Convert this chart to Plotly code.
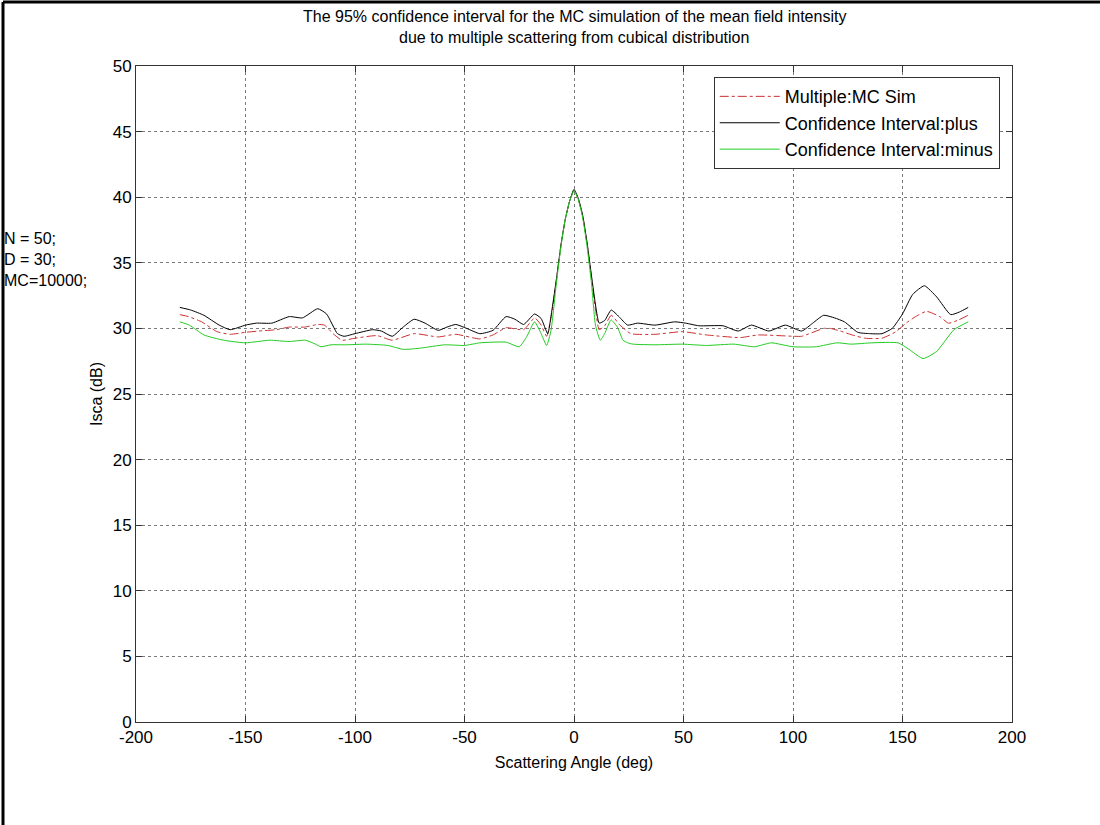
import plotly.graph_objects as go

# Mean field intensity (MC simulation) and its 95% confidence bounds, in dB
ang_mean = [-180, -176, -170, -163, -157, -150, -144, -136, -130, -123, -117, -114, -110, -106,
            -100, -90, -83, -73, -62, -54, -43, -37, -31, -23, -18, -15, -12.5, -10, -8, -6,
            -4, -2, 0, 2, 4, 6, 8, 10, 11.5, 14, 17, 21, 26, 37, 49.5, 60.5, 76, 84, 100, 104,
            114, 117, 121.6, 127, 133, 140.6, 147, 151.6, 156, 161, 167, 171, 175, 180]
isca_mean = [31.05, 30.9, 30.5, 29.75, 29.55, 29.7, 29.8, 29.9, 30.1, 30.1, 30.3, 30.25, 29.6, 29.1,
             29.25, 29.45, 29.1, 29.6, 29.35, 29.55, 29.2, 29.5, 30.05, 29.9, 30.8, 30.25, 29.4, 31.3, 33.7, 36.3,
             38.3, 39.7, 40.5, 39.8, 38.5, 36.4, 33.8, 31.2, 29.9, 30.2, 31.0, 30.25, 29.6, 29.55, 29.75, 29.5, 29.3, 29.5, 29.4, 29.4,
             30.0, 30.0, 29.8, 29.5, 29.25, 29.25, 29.75, 30.4, 30.9, 31.3, 30.9, 30.4, 30.6, 31.0]

ang_plus = [-180, -175, -169, -162, -157, -150, -145, -138, -130, -124, -117, -113, -108, -105,
            -100, -92, -88, -83, -78, -73, -68, -62, -58, -54, -49, -43, -37, -31, -27, -23,
            -18, -15, -12, -10, -8, -6, -4, -2, 0, 2, 4, 6, 8, 10, 11.5, 14, 17, 20.5, 24.5,
            29, 37, 46, 51, 57, 68, 75, 81, 89, 96.5, 104, 109, 114, 119, 123.5, 129.6, 135,
            140.6, 145.3, 150, 154.7, 160, 165.6, 172, 176, 180]
isca_plus = [31.6, 31.4, 31.0, 30.25, 29.9, 30.25, 30.4, 30.4, 30.9, 30.8, 31.5, 31.1, 29.6, 29.4,
             29.6, 29.9, 29.8, 29.4, 30.1, 30.7, 30.4, 29.85, 30.1, 30.3, 30.0, 29.6, 29.85, 30.9, 30.7, 30.3,
             31.1, 30.75, 29.6, 31.5, 33.8, 36.3, 38.3, 39.7, 40.6, 39.9, 38.6, 36.5, 34.0, 31.6, 30.4, 30.6, 31.4, 30.9, 30.25,
             30.4, 30.25, 30.5, 30.4, 30.2, 30.2, 29.8, 30.25, 29.8, 30.25, 29.8, 30.4, 31.0, 30.8, 30.5, 29.7, 29.6,
             29.6, 30.0, 31.1, 32.6, 33.25, 32.4, 31.05, 31.25, 31.6]

ang_minus = [-180, -175.6, -169, -160, -150, -139, -130, -122.6, -118, -115.5, -111, -104, -95, -85,
             -78, -70, -59, -50, -43, -31, -25, -21.5, -18, -15, -12.5, -10.5, -8, -6, -4, -2, 0,
             2, 4, 6, 8, 9.8, 12, 14, 16.9, 19.8, 22.4, 24.5, 27, 37, 49.5, 60.5, 73, 82.4, 90,
             100, 110.6, 120, 126.5, 136, 148, 153, 159.4, 165.6, 173.5, 180]
isca_minus = [30.5, 30.25, 29.5, 29.1, 28.9, 29.1, 29.0, 29.1, 28.8, 28.6, 28.75, 28.75, 28.8, 28.7,
              28.4, 28.5, 28.75, 28.7, 28.9, 28.95, 28.6, 29.4, 30.5, 29.6, 28.7, 29.85, 33.5, 36.2, 38.3, 39.7, 40.5,
              39.8, 38.4, 36.2, 33.4, 30.25, 29.1, 29.6, 30.65, 30.1, 29.1, 28.9, 28.8, 28.75, 28.8, 28.7, 28.8, 28.6, 28.9,
              28.6, 28.6, 28.9, 28.8, 28.9, 28.9, 28.4, 27.7, 28.25, 29.9, 30.5]

x_ticks = list(range(-200, 201, 50))
x_tick_text = [str(v) for v in x_ticks]
y_ticks = list(range(0, 51, 5))

FONT = "Liberation Sans, Arial, sans-serif"

fig = go.Figure()
fig.add_trace(go.Scatter(x=ang_mean, y=isca_mean, mode="lines", name="Multiple:MC Sim",
                         line=dict(color="#cc3030", width=1, dash="dashdot", shape="spline", smoothing=0.5)))
fig.add_trace(go.Scatter(x=ang_plus, y=isca_plus, mode="lines", name="Confidence Interval:plus",
                         line=dict(color="#000000", width=1, shape="spline", smoothing=0.5)))
fig.add_trace(go.Scatter(x=ang_minus, y=isca_minus, mode="lines", name="Confidence Interval:minus",
                         line=dict(color="#22cc22", width=1, shape="spline", smoothing=0.5)))

axis_common = dict(
    showline=True, linecolor="#333333", linewidth=1, mirror="ticks",
    ticks="inside", ticklen=6, tickcolor="#333333",
    showgrid=True, gridcolor="#7a7a7a", griddash="dot", gridwidth=1,
    zeroline=False, tickfont=dict(family=FONT, size=17, color="black"),
)

fig.update_layout(
    width=1100, height=825,
    paper_bgcolor="white", plot_bgcolor="white",
    margin=dict(l=136, r=88, t=66, b=103),
    font=dict(family=FONT, color="black"),
    xaxis=dict(axis_common, range=[-200, 200], tickvals=x_ticks, ticktext=x_tick_text,
               title=dict(text="Scattering Angle (deg)", font=dict(family=FONT, size=16), standoff=10)),
    yaxis=dict(axis_common, range=[0, 50], tickvals=y_ticks,
               title=dict(text="Isca (dB)", font=dict(family=FONT, size=16), standoff=6)),
    legend=dict(x=0.986, y=0.983, xanchor="right", yanchor="top",
                bgcolor="white", bordercolor="#333333", borderwidth=1,
                font=dict(family=FONT, size=18, color="black"), tracegroupgap=0,
                itemwidth=60),
    showlegend=True,
)

# two-line heading centred over the axes
title_lines = ["The 95% confidence interval for the MC simulation of the mean field intensity",
               "due to multiple scattering from cubical distribution"]
for i, line in enumerate(title_lines):
    fig.add_annotation(text=line, xref="paper", yref="paper", x=0.5,
                       y=(722 - (17 + 21 * i)) / 656, xanchor="center", yanchor="middle",
                       showarrow=False, font=dict(family=FONT, size=16, color="black"))

# simulation parameters at the left edge
fig.add_annotation(text="N = 50;<br>D = 30;<br>MC=10000;", xref="paper", yref="paper",
                   x=-0.153, y=(722 - 228) / 656, xanchor="left", yanchor="top", align="left",
                   showarrow=False, font=dict(family=FONT, size=16, color="black"))

# page frame (top and left edges)
fig.add_shape(type="line", xref="paper", yref="paper",
              x0=-133 / 876, x1=(1100 - 136) / 876, y0=(722 - 2) / 656, y1=(722 - 2) / 656,
              line=dict(color="black", width=3), layer="above")
fig.add_shape(type="line", xref="paper", yref="paper",
              x0=-133 / 876, x1=-133 / 876, y0=(722 - 2) / 656, y1=-103 / 656,
              line=dict(color="black", width=3), layer="above")

fig.write_html("out.html")
